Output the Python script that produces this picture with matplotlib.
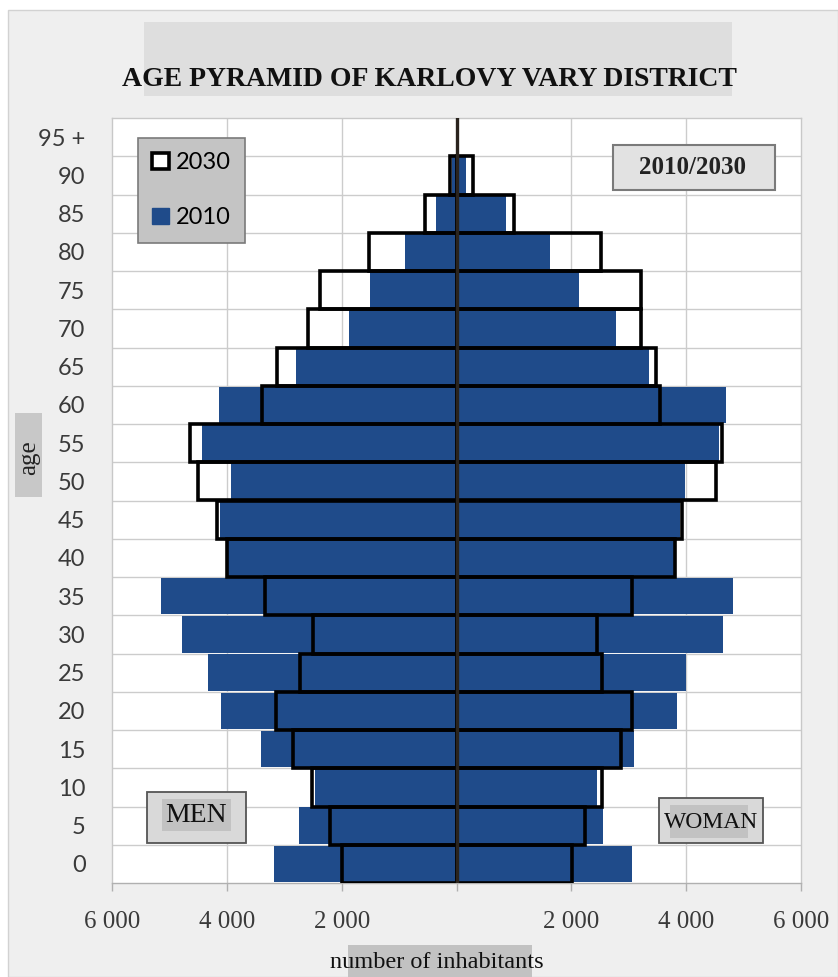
import numpy as np
import matplotlib
matplotlib.use("Agg")
from matplotlib import pyplot as plt
from matplotlib.patches import Rectangle, Patch
from matplotlib.ticker import FixedLocator, FixedFormatter

# data (inhabitants per 5-year group)
ages = ['0', '5', '10', '15', '20', '25', '30', '35', '40', '45',
        '50', '55', '60', '65', '70', '75', '80', '85', '90', '95 +']
men_2010 = [3180, 2750, 2470, 3400, 4100, 4330, 4780, 5150, 3980, 4120,
            3930, 4430, 4140, 2800, 1880, 1500, 890, 350, 70, 10]
men_2030 = [2000, 2210, 2520, 2850, 3150, 2730, 2500, 3340, 4000, 4170,
            4500, 4640, 3390, 3130, 2590, 2370, 1530, 540, 120, 10]
women_2010 = [3060, 2560, 2450, 3100, 3840, 4000, 4640, 4820, 3780, 3900,
              3980, 4570, 4700, 3360, 2770, 2140, 1620, 870, 160, 10]
women_2030 = [2020, 2240, 2540, 2870, 3060, 2540, 2440, 3060, 3800, 3930,
              4520, 4630, 3550, 3480, 3220, 3220, 2510, 1000, 280, 10]
xticks = [-6000, -4000, -2000, 0, 2000, 4000, 6000]
xticklabels = ['6 000', '4 000', '2 000', '', '2 000', '4 000', '6 000']

W, H = 838, 977
BLUE = '#1f4b8a'
SERIF = 'Liberation Serif'
SANS = 'Lato'


def fx(x):
    return x / W


def fy(y):
    return 1 - y / H


def fig_box(fig, x0, y0, x1, y1, fc, ec='none', lw=1.0, z=0):
    r = Rectangle((fx(x0), fy(y1)), fx(x1) - fx(x0), fy(y0) - fy(y1),
                  transform=fig.transFigure, facecolor=fc, edgecolor=ec,
                  linewidth=lw, zorder=z)
    fig.add_artist(r)


def main():
    fig = plt.figure(figsize=(W / 100, H / 100), dpi=100)
    fig.patch.set_facecolor('white')
    fig_box(fig, 8, 10, 838, 977, '#efefef', ec='#d2d2d2', lw=1.0, z=-5)

    # title with its grey backdrop
    fig_box(fig, 144, 22, 732, 96, '#dedede', z=-4)
    fig.text(fx(429), fy(79), 'AGE PYRAMID OF KARLOVY VARY DISTRICT',
             ha='center', va='center', family=SERIF, weight='bold',
             fontsize=20, color='#111111')

    ax = fig.add_axes([fx(112), fy(883), fx(801) - fx(112), fy(118) - fy(883)])
    ax.set_facecolor('white')
    y = np.arange(len(ages))
    m10 = -np.array(men_2010)
    m30 = -np.array(men_2030)

    ax.barh(y, m10, height=0.95, color=BLUE, zorder=2)
    ax.barh(y, women_2010, height=0.95, color=BLUE, zorder=2)
    ax.barh(y[:-1], m30[:-1], height=1.0, fill=False, edgecolor='black',
            linewidth=2.6, zorder=3)
    ax.barh(y[:-1], women_2030[:-1], height=1.0, fill=False,
            edgecolor='black', linewidth=2.6, zorder=3)
    ax.axvline(0, color='#2a241e', linewidth=2.4, zorder=4)

    ax.set_xlim(-6000, 6000)
    ax.set_ylim(-0.5, len(ages) - 0.5)

    # grid
    for gx in [-4000, -2000, 2000, 4000]:
        ax.axvline(gx, color='#cccccc', linewidth=1.0, zorder=1)
    for gy in y[:-1] + 0.5:
        ax.axhline(gy, color='#cccccc', linewidth=1.0, zorder=1)

    for s in ax.spines.values():
        s.set_color('#c8c8c8')
        s.set_linewidth(1.0)
    ax.spines['bottom'].set_color('#b0b0b0')

    ax.xaxis.set_major_locator(FixedLocator(xticks))
    ax.xaxis.set_major_formatter(FixedFormatter(xticklabels))
    ax.tick_params(axis='x', length=6, width=1, color='#b0b0b0', pad=14,
                   labelsize=18, labelcolor='#3a3a3a')
    for t in ax.get_xticklabels():
        t.set_family(SERIF)

    ax.set_yticks(y)
    ax.set_yticklabels(ages)
    ax.tick_params(axis='y', length=0, pad=19, labelsize=17,
                   labelcolor='#3a3a3a')
    for t in ax.get_yticklabels():
        t.set_family(SANS)

    # legend
    handles = [Patch(facecolor='white', edgecolor='black', linewidth=2.6),
               Patch(facecolor=BLUE, edgecolor=BLUE)]
    leg = fig.legend(handles, ['2030', '2010'], loc='upper left',
                     bbox_to_anchor=(fx(138), fy(138)),
                     bbox_transform=fig.transFigure,
                     prop={'family': SANS, 'size': 17},
                     handlelength=0.7, handleheight=0.7, handletextpad=0.3,
                     labelspacing=1.45, borderpad=0.6, borderaxespad=0,
                     fancybox=False, framealpha=1)
    leg.get_frame().set_facecolor('#c4c4c4')
    leg.get_frame().set_edgecolor('#7a7a7a')
    leg.get_frame().set_linewidth(1.2)

    # 2010/2030 box
    fig_box(fig, 613, 145, 775, 190, '#e2e2e2', ec='#7a7a7a', lw=1.5, z=5)
    fig.text(fx(692), fy(168), '2010/2030', ha='center', va='center',
             family=SERIF, weight='bold', fontsize=18, color='#222222',
             zorder=6)

    # MEN / WOMAN boxes
    fig_box(fig, 147, 792, 246, 843, '#d9d9d9', ec='#555555', lw=1.3, z=5)
    fig_box(fig, 162, 799, 231, 831, '#c2c2c2', z=5)
    fig.text(fx(196), fy(816), 'MEN', ha='center', va='center',
             family=SERIF, fontsize=20, color='#111111', zorder=6)
    fig_box(fig, 659, 798, 763, 843, '#d9d9d9', ec='#555555', lw=1.3, z=5)
    fig_box(fig, 670, 805, 748, 838, '#c2c2c2', z=5)
    fig.text(fx(711), fy(823), 'WOMAN', ha='center', va='center',
             family=SERIF, fontsize=17, color='#111111', zorder=6)

    # axis titles with grey backdrops
    fig_box(fig, 15, 413, 42, 497, '#c8c8c8', z=-3)
    fig.text(fx(29), fy(458), 'age', ha='center', va='center', rotation=90,
             family=SERIF, fontsize=18, color='#222222')
    fig_box(fig, 348, 945, 532, 977, '#c2c2c2', z=-3)
    fig.text(fx(437), fy(962), 'number of inhabitants', ha='center',
             va='center', family=SERIF, fontsize=17.5, color='#111111')

    fig.savefig('out.png', dpi=100, facecolor=fig.get_facecolor())


if __name__ == '__main__':
    main()
